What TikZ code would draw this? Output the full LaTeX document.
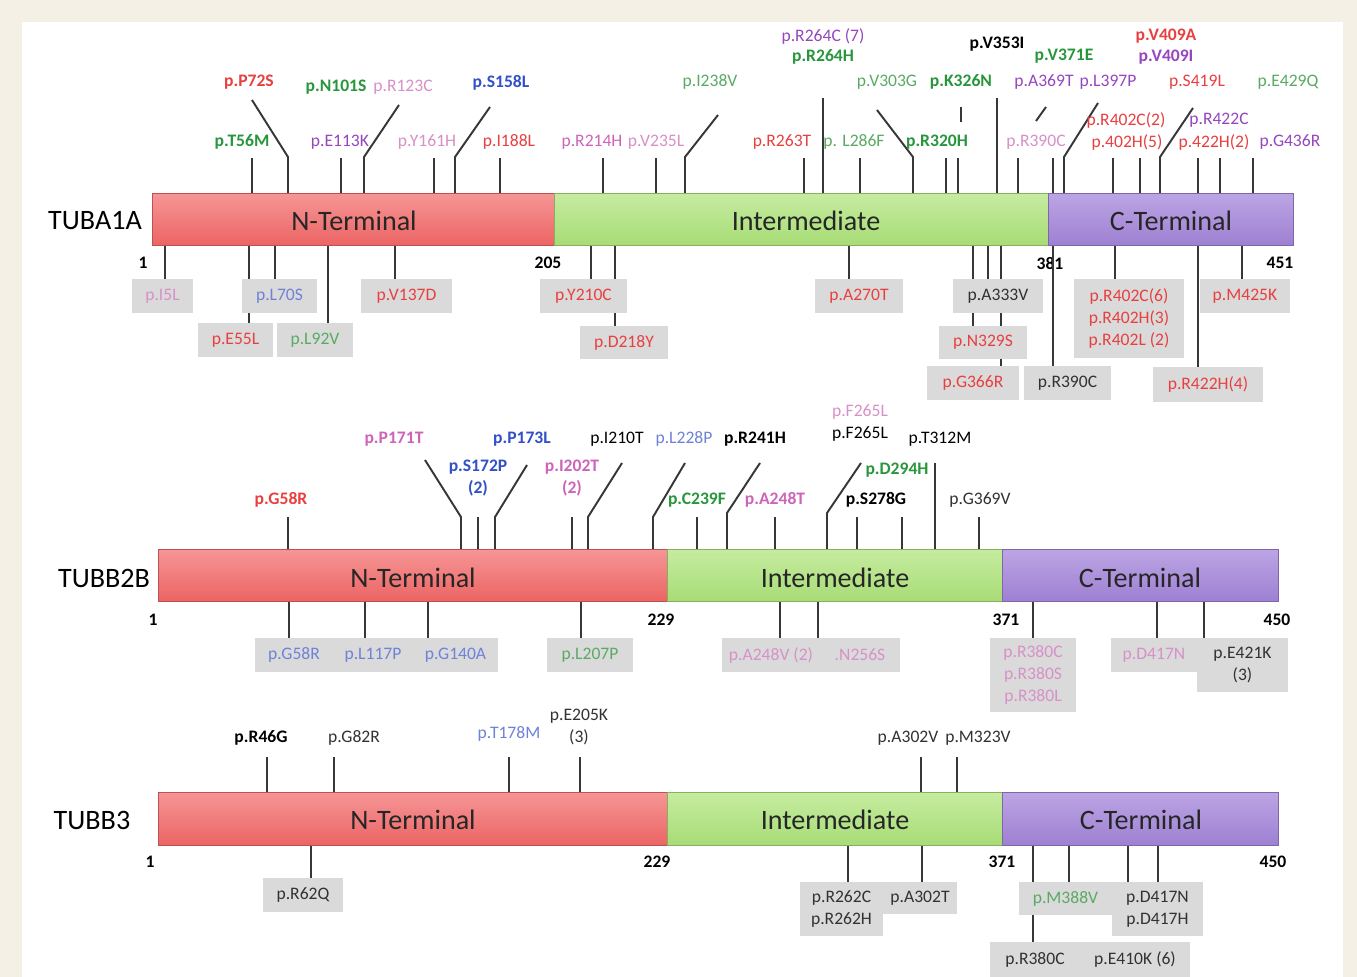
\documentclass[tikz,border=0pt]{standalone}
\usepackage{fontspec}
\setmainfont{Carlito}

\definecolor{framebg}{RGB}{244,240,230}
\definecolor{boxgray}{RGB}{218,218,218}
\definecolor{tickgray}{RGB}{55,55,55}
\definecolor{mred}{RGB}{232,64,64}
\definecolor{mgreen}{RGB}{40,150,60}
\definecolor{mlgreen}{RGB}{90,170,100}
\definecolor{mpurple}{RGB}{150,70,190}
\definecolor{mpink}{RGB}{205,100,185}
\definecolor{mlpink}{RGB}{215,145,200}
\definecolor{mblue}{RGB}{50,80,200}
\definecolor{mlblue}{RGB}{110,130,215}
\definecolor{mdark}{RGB}{50,50,50}
\definecolor{ntop}{RGB}{246,150,150}
\definecolor{nbot}{RGB}{236,100,100}
\definecolor{itop}{RGB}{198,236,160}
\definecolor{ibot}{RGB}{168,220,118}
\definecolor{ctop}{RGB}{188,165,228}
\definecolor{cbot}{RGB}{158,128,210}

% grey box with a mutation text in its middle
\newcommand{\mutbox}[7]{\fill[boxgray] (#1,#2) rectangle (#3,#4);
  \node[mut,text=#5] (#6) at ({(#1+#3)/2},{(#2+#4)/2}) {#7};}

\begin{document}
\begin{tikzpicture}[x=0.02cm,y=-0.02cm]
	\tikzstyle{tick}=[draw=tickgray,line width=1.1pt]
	\tikzstyle{mut}=[inner sep=0pt,align=center,font=\fontsize{10}{12.5}\selectfont]
	\tikzstyle{bmut}=[mut,font=\fontsize{10}{12.5}\selectfont\bfseries]
	\tikzstyle{num}=[inner sep=0pt,font=\fontsize{10}{12}\selectfont\bfseries]
	\tikzstyle{gene}=[inner sep=0pt,font=\fontsize{16}{18}\selectfont]
	\tikzstyle{dom}=[inner sep=0pt,text=black!85,font=\fontsize{16}{18}\selectfont]
	\tikzstyle{nbar}=[top color=ntop,bottom color=nbot,draw=nbot!80!black,line width=0.5pt]
	\tikzstyle{ibar}=[top color=itop,bottom color=ibot,draw=ibot!80!black,line width=0.5pt]
	\tikzstyle{cbar}=[top color=ctop,bottom color=cbot,draw=cbot!80!black,line width=0.5pt]

	\fill[framebg] (0,0) rectangle (1357,977);
	\fill[white] (22,22) rectangle (1343,977);
	\useasboundingbox (0,0) rectangle (1357,977);

	% ---------------- TUBA1A ----------------
	\foreach \x in {252,341,434,500,603,656,804,860,946,958,1018,1053,1113,1140,1198,1220,1253}
		\draw[tick] (\x,158) -- (\x,193);
	\foreach \x/\ex/\ey in {288/252/100,364/399/105,455/490/107,685/718/115,913/877/110,1064/1098/103,1160/1193/108}
		\draw[tick] (\x,193) -- (\x,157) -- (\ex,\ey);
	\foreach \x in {823,997}
		\draw[tick] (\x,98) -- (\x,193);
	\draw[tick] (961,107) -- (961,122);
	\draw[tick] (1046,107) -- (1036,121);
	\foreach \x/\y in {165/279,249/323,275/279,328/323,395/279,591/279,615/326,849/279,973/326,988/279,1001/366,1053/366,1115/279,1198/367,1242/279}
		\draw[tick] (\x,245) -- (\x,\y);

	\path[nbar] (152,193) rectangle (554,245);
	\path[ibar] (554,193) rectangle (1048,245);
	\path[cbar] (1048,193) rectangle (1293,245);
	\node[gene] (A) at (95,221) {TUBA1A};
	\node[dom] (A_N) at (354,221) {N-Terminal};
	\node[dom] (A_I) at (806,221) {Intermediate};
	\node[dom] (A_C) at (1171,221) {C-Terminal};
	\node[num] (A_n1) at (143,263) {1};
	\node[num] (A_n205) at (548,263) {205};
	\node[num,fill=white,inner sep=0pt] (A_n381) at (1050,263) {381};
	\draw[tick] (1053,255) -- (1053,272);
	\node[num] (A_n451) at (1280,263) {451};

	\node[bmut,text=mgreen] (A_T56M) at (242,142) {p.T56M};
	\node[mut,text=mpurple] (A_E113K) at (340,142) {p.E113K};
	\node[mut,text=mlpink] (A_Y161H) at (427,142) {p.Y161H};
	\node[mut,text=mred] (A_I188L) at (509,142) {p.I188L};
	\node[mut,text=mpink] (A_R214H) at (592,142) {p.R214H};
	\node[mut,text=mlpink] (A_V235L) at (656,142) {p.V235L};
	\node[mut,text=mred] (A_R263T) at (782,142) {p.R263T};
	\node[mut,text=mlgreen] (A_L286F) at (854,142) {p. L286F};
	\node[bmut,text=mgreen] (A_R320H) at (937,142) {p.R320H};
	\node[mut,text=mlpink] (A_R390C) at (1036,142) {p.R390C};
	\node[mut,text=mred] (A_R402H) at (1127,142) {p.402H(5)};
	\node[mut,text=mred] (A_R422H) at (1214,142) {p.422H(2)};
	\node[mut,text=mpurple] (A_G436R) at (1290,142) {p.G436R};
	\node[mut,text=mred] (A_R402C) at (1126,120) {p.R402C(2)};
	\node[mut,text=mpurple] (A_R422C) at (1219,120) {p.R422C};
	\node[bmut,text=mred] (A_P72S) at (249,82) {p.P72S};
	\node[bmut,text=mgreen] (A_N101S) at (336,87) {p.N101S};
	\node[mut,text=mlpink] (A_R123C) at (403,87) {p.R123C};
	\node[bmut,text=mblue] (A_S158L) at (501,83) {p.S158L};
	\node[mut,text=mlgreen] (A_I238V) at (710,82) {p.I238V};
	\node[mut,text=mlgreen] (A_V303G) at (887,82) {p.V303G};
	\node[bmut,text=mgreen] (A_K326N) at (961,82) {p.K326N};
	\node[mut,text=mpurple] (A_A369T) at (1044,82) {p.A369T};
	\node[mut,text=mpurple] (A_L397P) at (1108,82) {p.L397P};
	\node[mut,text=mred] (A_S419L) at (1197,82) {p.S419L};
	\node[mut,text=mlgreen] (A_E429Q) at (1288,82) {p.E429Q};
	\node[mut,text=mpurple] (A_R264C) at (823,36) {p.R264C (7)};
	\node[bmut,text=mgreen] (A_R264H) at (823,57) {p.R264H};
	\node[bmut,text=black] (A_V353I) at (997,44) {p.V353I};
	\node[bmut,text=mgreen] (A_V371E) at (1064,56) {p.V371E};
	\node[bmut,text=mred] (A_V409A) at (1166,36) {p.V409A};
	\node[bmut,text=mpurple] (A_V409I) at (1166,57) {p.V409I};

	\mutbox{132}{279}{193}{313}{mlpink}{A_I5L}{p.I5L}
	\mutbox{198}{323}{273}{357}{mred}{A_E55L}{p.E55L}
	\mutbox{242}{279}{317}{313}{mlblue}{A_L70S}{p.L70S}
	\mutbox{277}{323}{353}{357}{mlgreen}{A_L92V}{p.L92V}
	\mutbox{361}{279}{452}{313}{mred}{A_V137D}{p.V137D}
	\mutbox{540}{279}{627}{313}{mred}{A_Y210C}{p.Y210C}
	\mutbox{580}{326}{668}{359}{mred}{A_D218Y}{p.D218Y}
	\mutbox{815}{279}{903}{313}{mred}{A_A270T}{p.A270T}
	\mutbox{953}{279}{1043}{313}{mdark}{A_A333V}{p.A333V}
	\mutbox{939}{326}{1027}{359}{mred}{A_N329S}{p.N329S}
	\mutbox{927}{366}{1019}{400}{mred}{A_G366R}{p.G366R}
	\mutbox{1024}{366}{1111}{400}{mdark}{A_R390Cb}{p.R390C}
	\mutbox{1074}{279}{1184}{358}{mred}{A_R402}{p.R402C(6)\\p.R402H(3)\\p.R402L (2)}
	\mutbox{1153}{367}{1263}{402}{mred}{A_R422H4}{p.R422H(4)}
	\mutbox{1200}{279}{1290}{313}{mred}{A_M425K}{p.M425K}

	% ---------------- TUBB2B ----------------
	\foreach \x in {288,478,572,697,775,857,902,979}
		\draw[tick] (\x,517) -- (\x,549);
	\foreach \x/\sy/\ex/\ey in {461/517/425/460,495/517/527/465,588/517/622/463,653/517/685/463,727/513/760/463,827/513/861/463}
		\draw[tick] (\x,549) -- (\x,\sy) -- (\ex,\ey);
	\draw[tick] (935,463) -- (935,549);
	\foreach \x/\y in {289/638,365/638,428/638,581/638,780/638,818/638,1033/638,1157/638,1204/638}
		\draw[tick] (\x,601) -- (\x,\y);

	\path[nbar] (158,549) rectangle (667,601);
	\path[ibar] (667,549) rectangle (1002,601);
	\path[cbar] (1002,549) rectangle (1278,601);
	\node[gene] (B) at (104,578) {TUBB2B};
	\node[dom] (B_N) at (413,578) {N-Terminal};
	\node[dom] (B_I) at (835,578) {Intermediate};
	\node[dom] (B_C) at (1140,578) {C-Terminal};
	\node[num] (B_n1) at (153,620) {1};
	\node[num] (B_n229) at (661,620) {229};
	\node[num] (B_n371) at (1006,620) {371};
	\node[num] (B_n450) at (1277,620) {450};

	\node[bmut,text=mred] (B_G58R) at (281,500) {p.G58R};
	\node[bmut,text=mpink] (B_P171T) at (394,439) {p.P171T};
	\node[bmut,text=mblue] (B_S172P) at (478,478) {p.S172P\\(2)};
	\node[bmut,text=mblue] (B_P173L) at (522,439) {p.P173L};
	\node[bmut,text=mpink] (B_I202T) at (572,478) {p.I202T\\(2)};
	\node[mut,text=black] (B_I210T) at (617,439) {p.I210T};
	\node[mut,text=mlblue] (B_L228P) at (684,439) {p.L228P};
	\node[bmut,text=black] (B_R241H) at (755,439) {p.R241H};
	\node[bmut,text=mgreen] (B_C239F) at (697,500) {p.C239F};
	\node[bmut,text=mpink] (B_A248T) at (775,500) {p.A248T};
	\node[mut,text=mlpink] (B_F265La) at (860,412) {p.F265L};
	\node[mut,text=black] (B_F265Lb) at (860,434) {p.F265L};
	\node[bmut,text=black] (B_S278G) at (876,500) {p.S278G};
	\node[bmut,text=mgreen] (B_D294H) at (897,470) {p.D294H};
	\node[mut,text=black] (B_T312M) at (940,439) {p.T312M};
	\node[mut,text=mdark] (B_G369V) at (980,500) {p.G369V};

	\mutbox{255}{638}{333}{672}{mlblue}{B_G58Rb}{p.G58R}
	\mutbox{333}{638}{413}{672}{mlblue}{B_L117P}{p.L117P}
	\mutbox{413}{638}{498}{672}{mlblue}{B_G140A}{p.G140A}
	\mutbox{547}{638}{633}{672}{mlgreen}{B_L207P}{p.L207P}
	\mutbox{722}{638}{820}{672}{mlpink}{B_A248V}{p.A248V (2)}
	\mutbox{820}{638}{900}{672}{mlpink}{B_N256S}{.N256S}
	\mutbox{990}{638}{1076}{712}{mlpink}{B_R380}{p.R380C\\p.R380S\\p.R380L}
	\mutbox{1111}{638}{1197}{672}{mlpink}{B_D417N}{p.D417N}
	\mutbox{1197}{638}{1288}{692}{mdark}{B_E421K}{p.E421K\\(3)}

	% ---------------- TUBB3 ----------------
	\foreach \x in {267,334,509,580,921,957}
		\draw[tick] (\x,757) -- (\x,792);
	\foreach \x/\y in {311/878,848/882,922/882,1033/942,1069/882,1128/882,1158/882}
		\draw[tick] (\x,845) -- (\x,\y);

	\path[nbar] (158,792) rectangle (667,845);
	\path[ibar] (667,792) rectangle (1002,845);
	\path[cbar] (1002,792) rectangle (1278,845);
	\node[gene] (C) at (92,820) {TUBB3};
	\node[dom] (C_N) at (413,820) {N-Terminal};
	\node[dom] (C_I) at (835,820) {Intermediate};
	\node[dom] (C_C) at (1141,820) {C-Terminal};
	\node[num] (C_n1) at (150,862) {1};
	\node[num] (C_n229) at (657,862) {229};
	\node[num] (C_n371) at (1002,862) {371};
	\node[num] (C_n450) at (1273,862) {450};

	\node[bmut,text=black] (C_R46G) at (261,738) {p.R46G};
	\node[mut,text=mdark] (C_G82R) at (354,738) {p.G82R};
	\node[mut,text=mlblue] (C_T178M) at (509,734) {p.T178M};
	\node[mut,text=mdark] (C_E205K) at (579,727) {p.E205K\\(3)};
	\node[mut,text=mdark] (C_A302V) at (908,738) {p.A302V};
	\node[mut,text=mdark] (C_M323V) at (978,738) {p.M323V};

	\mutbox{263}{878}{343}{912}{mdark}{C_R62Q}{p.R62Q}
	\mutbox{800}{882}{883}{936}{mdark}{C_R262}{p.R262C\\p.R262H}
	\mutbox{883}{882}{957}{914}{mdark}{C_A302T}{p.A302T}
	\mutbox{1019}{882}{1112}{915}{mlgreen}{C_M388V}{p.M388V}
	\mutbox{1112}{882}{1203}{936}{mdark}{C_D417}{p.D417N\\p.D417H}
	\mutbox{990}{942}{1080}{977}{mdark}{C_R380C}{p.R380C}
	\mutbox{1080}{942}{1190}{977}{mdark}{C_E410K}{p.E410K (6)}

\end{tikzpicture}
\end{document}
